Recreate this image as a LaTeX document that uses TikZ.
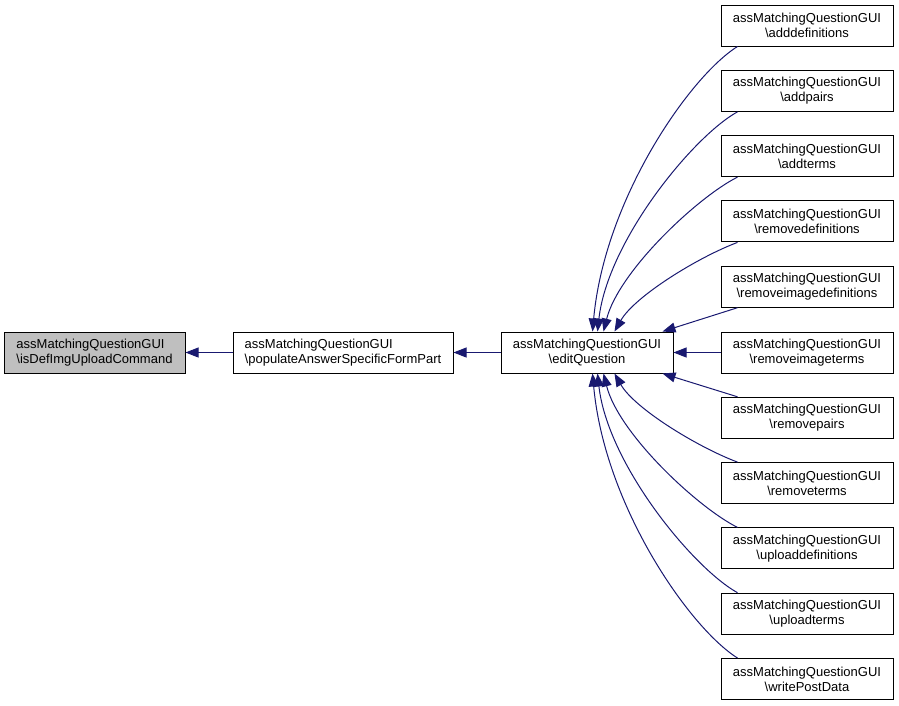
\documentclass[tikz,border=0pt]{standalone}
\usepackage{fontspec}
\setmainfont{Liberation Sans}
\usetikzlibrary{arrows.meta,calc}
\definecolor{edgeblue}{HTML}{191970}
\definecolor{boxgray}{HTML}{BFBFBF}
\tikzset{
  fn/.style={draw=black, line width=1pt, rectangle, minimum height=41pt, inner sep=0pt,
    font=\fontsize{13pt}{15pt}\selectfont, align=center},
  fnl/.style={fn, align=left},
  rfn/.style={fn, minimum width=172pt},
  edge/.style={draw=edgeblue, line width=1pt, -{Triangle[length=13pt,width=10pt]}}
}
\begin{document}
\begin{tikzpicture}[x=1pt,y=-1pt]
\useasboundingbox (0,0) rectangle (899,705);
\node[fnl, fill=boxgray, minimum width=181pt] (left) at (94.5,352.5) {assMatchingQuestionGUI\\\textbackslash isDefImgUploadCommand};
\node[fnl, minimum width=220pt] (mid) at (343,352.5) {assMatchingQuestionGUI\\\textbackslash populateAnswerSpecificFormPart};
\node[fn, minimum width=172pt] (edit) at (587,352.5) {assMatchingQuestionGUI\\\textbackslash editQuestion};
\node[rfn] (r0) at (807,25.5) {assMatchingQuestionGUI\\\textbackslash adddefinitions};
\node[rfn] (r1) at (807,90.8) {assMatchingQuestionGUI\\\textbackslash addpairs};
\node[rfn] (r2) at (807,156.1) {assMatchingQuestionGUI\\\textbackslash addterms};
\node[rfn] (r3) at (807,221.4) {assMatchingQuestionGUI\\\textbackslash removedefinitions};
\node[rfn] (r4) at (807,286.7) {assMatchingQuestionGUI\\\textbackslash removeimagedefinitions};
\node[rfn] (r5) at (807,352.5) {assMatchingQuestionGUI\\\textbackslash removeimageterms};
\node[rfn] (r6) at (807,417.8) {assMatchingQuestionGUI\\\textbackslash removepairs};
\node[rfn] (r7) at (807,483.1) {assMatchingQuestionGUI\\\textbackslash removeterms};
\node[rfn] (r8) at (807,548.4) {assMatchingQuestionGUI\\\textbackslash uploaddefinitions};
\node[rfn] (r9) at (807,613.7) {assMatchingQuestionGUI\\\textbackslash uploadterms};
\node[rfn] (r10) at (807,679) {assMatchingQuestionGUI\\\textbackslash writePostData};

\draw[edge] (mid.west) -- (left.east);
\draw[edge] (edit.west) -- (mid.east);
\draw[edge] (r5.west) -- (edit.east);

\draw[edge] ($(r0.south west)+(17,0)$) .. controls +(-48,30) and +(12,-132) .. ($(edit.north west)+(92,0)$);
\draw[edge] ($(r1.south west)+(17,0)$) .. controls +(-45,25) and +(10,-90) .. ($(edit.north west)+(97,0)$);
\draw[edge] ($(r2.south west)+(17,0)$) .. controls +(-40,20) and +(15,-60) .. ($(edit.north west)+(103,0)$);
\draw[edge] ($(r3.south west)+(17,0)$) .. controls +(-40,15) and +(20,-35) .. ($(edit.north west)+(114,0)$);
\draw[edge] ($(r4.south west)+(17,0)$) -- ($(edit.north west)+(162,0)$);

\draw[edge] ($(r6.north west)+(17,0)$) -- ($(edit.south west)+(162,0)$);
\draw[edge] ($(r7.north west)+(17,0)$) .. controls +(-40,-15) and +(20,35) .. ($(edit.south west)+(114,0)$);
\draw[edge] ($(r8.north west)+(17,0)$) .. controls +(-40,-20) and +(15,60) .. ($(edit.south west)+(103,0)$);
\draw[edge] ($(r9.north west)+(17,0)$) .. controls +(-45,-25) and +(10,90) .. ($(edit.south west)+(97,0)$);
\draw[edge] ($(r10.north west)+(17,0)$) .. controls +(-48,-30) and +(12,132) .. ($(edit.south west)+(92,0)$);
\end{tikzpicture}
\end{document}
